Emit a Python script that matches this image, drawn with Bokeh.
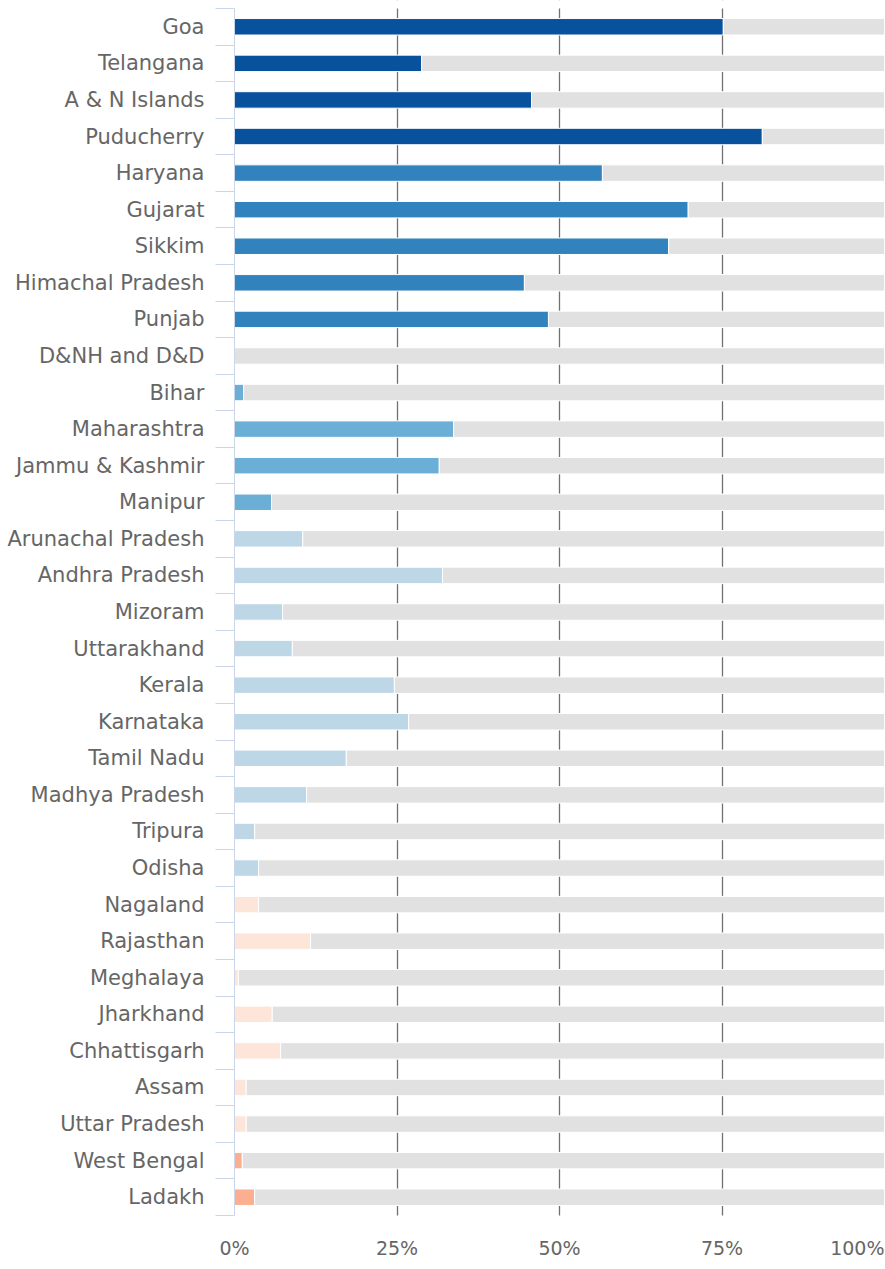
from bokeh.plotting import figure
from bokeh.models import Range1d, FixedTicker, Label, BoxAnnotation
from bokeh.embed import file_html
from bokeh.resources import INLINE

states = ["Goa", "Telangana", "A & N Islands", "Puducherry", "Haryana", "Gujarat",
          "Sikkim", "Himachal Pradesh", "Punjab", "D&NH and D&D", "Bihar",
          "Maharashtra", "Jammu & Kashmir", "Manipur", "Arunachal Pradesh",
          "Andhra Pradesh", "Mizoram", "Uttarakhand", "Kerala", "Karnataka",
          "Tamil Nadu", "Madhya Pradesh", "Tripura", "Odisha", "Nagaland",
          "Rajasthan", "Meghalaya", "Jharkhand", "Chhattisgarh", "Assam",
          "Uttar Pradesh", "West Bengal", "Ladakh"]
values = [75.2, 28.8, 45.7, 81.2, 56.6, 69.8, 66.8, 44.6, 48.3, 0.0, 1.4,
          33.7, 31.5, 5.7, 10.5, 32.0, 7.4, 8.9, 24.6, 26.8, 17.2, 11.1,
          3.1, 3.7, 3.7, 11.7, 0.6, 5.8, 7.1, 1.8, 1.8, 1.2, 3.1]
groups = [0, 0, 0, 0, 1, 1, 1, 1, 1, 1, 2, 2, 2, 2, 3, 3, 3, 3, 3, 3, 3, 3,
          3, 3, 4, 4, 4, 4, 4, 4, 4, 5, 5]
palette = ["#08519c", "#3182bd", "#6baed6", "#bdd7e7", "#fee5d9", "#fcae91"]
x_tick_values = [0, 25, 50, 75, 100]
x_tick_labels = ["0%", "25%", "50%", "75%", "100%"]

n = len(states)
idx = list(range(n))
colors = [palette[g] for g in groups]
rest_right = [100] * n

# layout (pixels)
W, H = 885, 1265
TOP = 8            # top of the category area
LEFT = 234         # x position of 0%
PLOT_W = 650       # width of 0..100%
ROWS_PX = 1207     # height of the category area
px_per_row = ROWS_PX / n
px_per_pct = PLOT_W / 100.0
x_start = -LEFT / px_per_pct
x_end = x_start + (W - 1) / px_per_pct
y_top = -0.5 - TOP / px_per_row
y_bottom = -0.5 + (H - TOP) / px_per_row

p = figure(width=W, height=H, output_backend="svg", toolbar_location=None,
           x_range=Range1d(x_start, x_end), y_range=Range1d(y_bottom, y_top),
           min_border_left=0, min_border_right=1, min_border_top=0,
           min_border_bottom=0)
p.outline_line_color = None
p.background_fill_color = "white"
p.border_fill_color = "white"

# grid
p.ygrid.grid_line_color = None
p.xgrid.ticker = FixedTicker(ticks=[25, 50, 75, 100])
p.xgrid.grid_line_color = "#707070"
p.xgrid.grid_line_width = 1.3

# keep grid lines within the category area
p.add_layout(BoxAnnotation(top=n - 0.5, bottom=y_bottom, fill_color="white",
                           fill_alpha=1, line_color=None, level="underlay"))
p.add_layout(BoxAnnotation(top=y_top, bottom=-0.5, fill_color="white",
                           fill_alpha=1, line_color=None, level="underlay"))

# bars
p.hbar(y=idx, left=0, right=values, height=0.45, fill_color=colors,
       line_color="white", line_width=1)
p.hbar(y=idx, left=values, right=rest_right, height=0.45,
       fill_color="#e1e1e1", line_color="white", line_width=1)

# y axis at x = 0
yax = p.yaxis[0]
yax.fixed_location = 0
yax.bounds = (-0.5, n - 0.5)
yax.ticker = FixedTicker(ticks=idx, minor_ticks=[i - 0.5 for i in idx] + [n - 0.5])
yax.major_label_overrides = {i: s for i, s in zip(idx, states)}
yax.major_tick_out = 0
yax.major_tick_in = 0
yax.minor_tick_out = 19
yax.minor_tick_in = 0
yax.minor_tick_line_color = "#ccd6eb"
yax.axis_line_color = "#ccd6eb"
yax.major_label_standoff = 11
yax.major_label_text_font = "DejaVu Sans"
yax.major_label_text_font_size = "21px"
yax.major_label_text_color = "#666666"

# x axis at the bottom of the category area
xax = p.xaxis[0]
xax.fixed_location = n - 0.5
xax.ticker = FixedTicker(ticks=x_tick_values[:-1])
xax.major_label_overrides = {v: s for v, s in zip(x_tick_values[:-1], x_tick_labels[:-1])}
xax.axis_line_color = None
xax.major_tick_line_color = None
xax.minor_tick_line_color = None
xax.major_tick_out = 0
xax.major_tick_in = 0
xax.major_label_standoff = 21
xax.major_label_text_font = "DejaVu Sans"
xax.major_label_text_font_size = "19px"
xax.major_label_text_color = "#666666"

last = Label(x=x_tick_values[-1], y=n - 0.5 + 21 / px_per_row,
             text=x_tick_labels[-1], text_align="right", text_baseline="top",
             text_font="DejaVu Sans", text_font_size="19px", text_color="#666666")
p.add_layout(last)

open("out.html", "w").write(file_html(p, INLINE))
